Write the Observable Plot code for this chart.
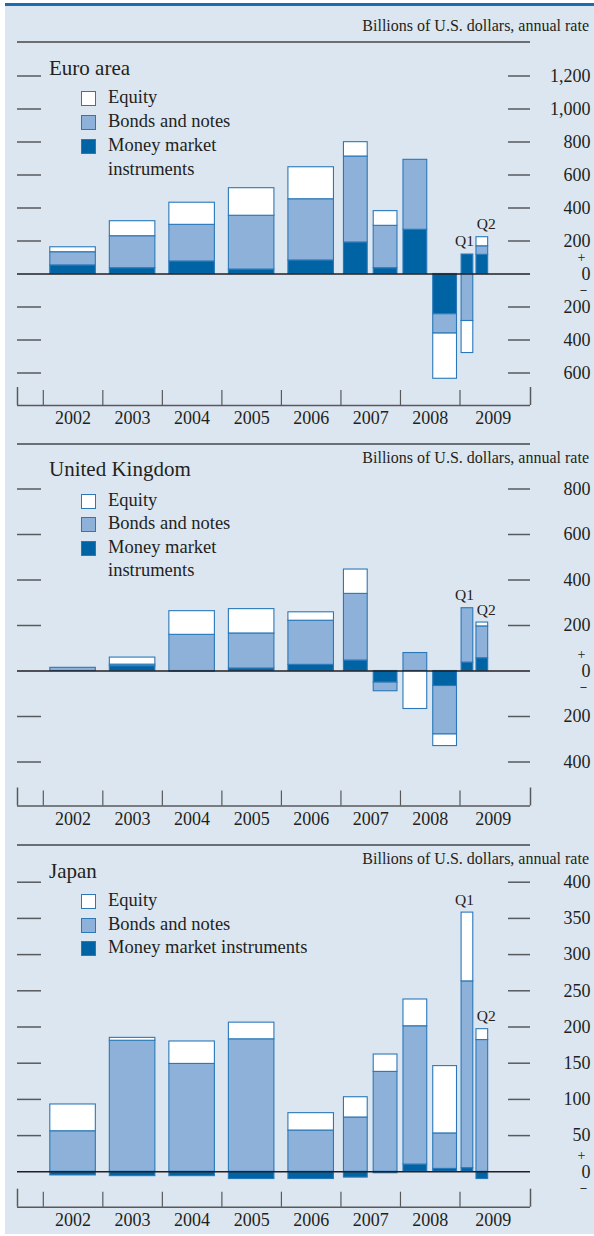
<!DOCTYPE html>
<html><head><meta charset="utf-8">
<script src="https://cdn.jsdelivr.net/npm/d3@7"></script>
<script src="https://cdn.jsdelivr.net/npm/@observablehq/plot@0.6"></script>
<style>
body{margin:0;background:#fff;}
#page{position:relative;width:594px;height:1236px;overflow:hidden;font-family:"Liberation Serif","Times New Roman",serif;color:#231f20;}
#bg{position:absolute;left:5px;top:6px;width:589px;height:1228px;background:#dce6f1;}
#topline{position:absolute;left:5px;top:3px;width:589px;height:3px;background:#1a6db0;}
.rule{position:absolute;left:17px;width:513px;height:2px;background:#6d6e71;}
.t{position:absolute;white-space:nowrap;line-height:1;}
.sw{position:absolute;width:13px;height:13px;border:1px solid #2a78b9;}
.panel{position:absolute;left:0;}
</style></head><body><div id="page"><div id="bg"></div><div id="topline"></div></div>
<script>
// ---------------- data ----------------
const periods = ["2002","2003","2004","2005","2006","2007 H1","2007 H2","2008 H1","2008 H2","2009 Q1","2009 Q2"];
const seriesNames = ["Money market instruments","Bonds and notes","Equity"];
const unitsLabel = "Billions of U.S. dollars, annual rate";

const euroMoney  = [52, 35, 76, 27, 82, 191, 35, 268, -244, 118, 116];
const euroBonds  = [80, 194, 222, 326, 371, 521, 257, 424, -117, -285, 52];
const euroEquity = [30, 91, 134, 167, 194, 87, 89, 0, -274, -194, 55];
const euroTicks  = [-600, -400, -200, 0, 200, 400, 600, 800, 1000, 1200];

const ukMoney  = [0, 21, -3, 11, 27, 46, -51, 0, -66, 37, 56];
const ukBonds  = [14, 7, 159, 154, 194, 293, -38, 79, -213, 239, 140];
const ukEquity = [0, 31, 104, 107, 37, 107, 0, -167, -51, 0, 17];
const ukTicks  = [-400, -200, 0, 200, 400, 600, 800];

const jpMoney  = [-5, -6, -6, -10, -10, -8, -2, 10, 4, 5, -10];
const jpBonds  = [56, 181, 149, 183, 57, 75, 138, 191, 49, 258, 182];
const jpEquity = [37, 4, 31, 23, 24, 28, 24, 37, 93, 95, 15];
const jpTicks  = [0, 50, 100, 150, 200, 250, 300, 350, 400];

const years = [2002, 2003, 2004, 2005, 2006, 2007, 2008, 2009];

// ---------------- helpers ----------------
const page = document.getElementById("page");
const FONT = '"Liberation Serif","Times New Roman",serif';
const colors = ["#0064a4", "#8db1d8", "#ffffff"];
const OUTLINE = "#2a78b9";
const INK = "#231f20";
const GRAY = "#58595b";

function span(p) {
  const [y, s] = p.split(" ");
  const yr = +y;
  if (!s) return [yr, yr + 1, "A"];
  const n = +s.slice(1);
  if (s[0] === "H") return [yr + (n - 1) / 2, yr + n / 2, "H"];
  return [yr + (n - 1) / 4, yr + n / 4, "Q"];
}

function stackRows(money, bonds, equity) {
  const rows = [], tops = [];
  periods.forEach((p, i) => {
    const [x1, x2, kind] = span(p);
    let pos = 0, neg = 0;
    [money[i], bonds[i], equity[i]].forEach((v, j) => {
      if (!v) return;
      let y1, y2;
      if (v > 0) { y1 = pos; pos += v; y2 = pos; } else { y1 = neg; neg += v; y2 = neg; }
      rows.push({period: p, series: seriesNames[j], kind, x1, x2, y1, y2});
    });
    if (kind === "Q") tops.push({label: p.split(" ")[1], x: (x1 + x2) / 2, y: pos});
  });
  return {rows, tops};
}

function addText(txt, style) {
  const d = document.createElement("div");
  d.className = "t";
  d.textContent = txt;
  Object.assign(d.style, style);
  page.appendChild(d);
}
function addRule(y) {
  const d = document.createElement("div");
  d.className = "rule";
  d.style.top = (y - 1) + "px";
  page.appendChild(d);
}
function addLegend(rows) { // rows: [centerY, label, colorIndex or null]
  rows.forEach(([cy, label, ci]) => {
    if (ci !== null) {
      const s = document.createElement("div");
      s.className = "sw";
      s.style.left = "81px";
      s.style.top = (cy - 7.5) + "px";
      s.style.background = colors[ci];
      page.appendChild(s);
    }
    addText(label, {left: "108px", top: (cy - 10) + "px", fontSize: "18.5px"});
  });
}

// x layout (years): frame 17..530 px
const xMin = 2001.5666, xMax = 2010.1843;
const yearLabelPos = years.map(y => y === 2009 ? 2009.56 : y + 0.5);

function buildPanel(cfg, money, bonds, equity, ticks) {
  const {top, height, zeroY, k, axisY, yHi} = cfg;
  const marginTop = (zeroY - yHi * k) - top;
  const marginBottom = top + height - axisY;
  const yLo = -(axisY - zeroY) / k;
  const frameH = height - marginTop - marginBottom;
  const {rows, tops} = stackRows(money, bonds, equity);
  const nonZero = ticks.filter(d => d !== 0);
  const fmt = d => d === 0 ? "0" : d3.format(",")(Math.abs(d));
  const insets = {A: 7, H: 3, Q: 1.6};
  const rectMarks = ["A", "H", "Q"].map(kind =>
    Plot.rect(rows.filter(r => r.kind === kind), {
      x1: "x1", x2: "x2", y1: "y1", y2: "y2", fill: "series",
      stroke: OUTLINE, strokeWidth: 1.1, insetLeft: insets[kind], insetRight: insets[kind]
    }));
  const svg = Plot.plot({
    width: 594, height,
    marginLeft: 17, marginRight: 64, marginTop, marginBottom,
    style: {background: "transparent", fontFamily: FONT, fontSize: "18px", color: INK, overflow: "visible"},
    x: {domain: [xMin, xMax]},
    y: {domain: [yLo, yHi]},
    color: {domain: seriesNames, range: colors},
    marks: [
      ...rectMarks,
      Plot.ruleY([0], {stroke: INK, strokeWidth: 1.5}),
      Plot.ruleY(nonZero, {insetLeft: 491, stroke: GRAY, strokeWidth: 1.5}),
      Plot.ruleY(nonZero, {insetRight: 489, stroke: GRAY, strokeWidth: 1.5}),
      Plot.axisY(ticks, {anchor: "right", tickSize: 0, tickPadding: 60, textAnchor: "end", tickFormat: fmt, fill: INK, fontSize: 18}),
      Plot.text([0], {y: d => d, text: () => "+", frameAnchor: "right", dx: 55, dy: -16, fontSize: 14, fill: INK}),
      Plot.text([0], {y: d => d, text: () => "\u2013", frameAnchor: "right", dx: 56, dy: 15, fontSize: 12, fontWeight: "bold", fill: INK}),
      Plot.text(tops.filter(d => d.label === "Q1"), {x: "x", y: "y", text: "label", dy: -13, dx: -3, fontSize: 15.5, fill: INK}),
      Plot.text(tops.filter(d => d.label === "Q2"), {x: "x", y: "y", text: "label", dy: -13, dx: 4, fontSize: 15.5, fill: INK}),
      Plot.ruleY([yLo], {stroke: GRAY, strokeWidth: 1.5}),
      Plot.ruleX(years, {stroke: GRAY, strokeWidth: 1.2, insetTop: frameH - 15}),
      Plot.ruleX([xMin, xMax], {stroke: GRAY, strokeWidth: 1.5, insetTop: frameH - 18}),
      Plot.axisX(yearLabelPos, {anchor: "bottom", tickSize: 0, tickPadding: 6, tickFormat: d => String(Math.floor(d)), fill: INK, fontSize: 18})
    ]
  });
  const wrap = document.createElement("div");
  wrap.className = "panel";
  wrap.style.top = top + "px";
  wrap.appendChild(svg);
  page.appendChild(wrap);
}

// ---------------- Euro area ----------------
addText(unitsLabel, {right: "5px", top: "18.4px", fontSize: "16px"});
addRule(42);
addText("Euro area", {left: "49px", top: "57.7px", fontSize: "21px"});
addLegend([[98, "Equity", 2], [122, "Bonds and notes", 1], [146, "Money market", 0], [170, "instruments", null]]);
buildPanel({top: 44, height: 396, zeroY: 273.5, k: 0.165, axisY: 405, yHi: 1300}, euroMoney, euroBonds, euroEquity, euroTicks);

// ---------------- United Kingdom ----------------
addRule(444);
addText(unitsLabel, {right: "5px", top: "450.4px", fontSize: "16px"});
addText("United Kingdom", {left: "49px", top: "458.7px", fontSize: "21px"});
addLegend([[501, "Equity", 2], [524, "Bonds and notes", 1], [548, "Money market", 0], [571, "instruments", null]]);
buildPanel({top: 446, height: 394, zeroY: 670.5, k: 0.2275, axisY: 805.5, yHi: 900}, ukMoney, ukBonds, ukEquity, ukTicks);

// ---------------- Japan ----------------
addRule(845);
addText(unitsLabel, {right: "5px", top: "851.4px", fontSize: "16px"});
addText("Japan", {left: "49px", top: "860.7px", fontSize: "21px"});
addLegend([[901, "Equity", 2], [925, "Bonds and notes", 1], [948, "Money market instruments", 0]]);
buildPanel({top: 847, height: 389, zeroY: 1171.3, k: 0.724, axisY: 1206.7, yHi: 430}, jpMoney, jpBonds, jpEquity, jpTicks);
</script></body></html>
